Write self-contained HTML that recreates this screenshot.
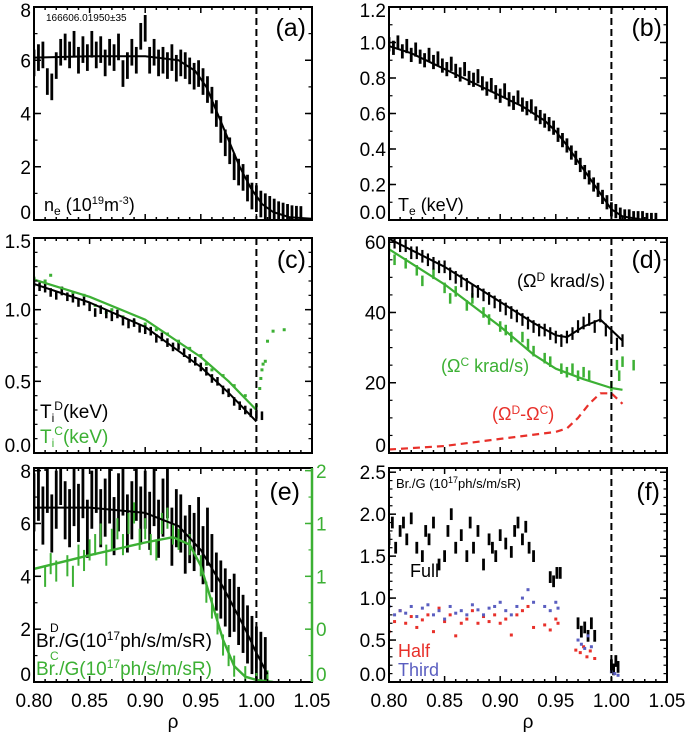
<!DOCTYPE html>
<html><head><meta charset="utf-8"><style>
html,body{margin:0;padding:0;background:#fff;}
svg{display:block;font-family:"Liberation Sans",sans-serif;}
</style></head><body>
<svg id="chart" width="688" height="737" viewBox="0 0 688 737" xmlns="http://www.w3.org/2000/svg"></svg>
<script>
// ---------- data ----------
const aRho=[0.800,0.804,0.808,0.812,0.816,0.820,0.824,0.828,0.832,0.836,0.840,0.844,0.848,0.852,0.856,0.860,0.864,0.868,0.872,0.876,0.880,0.884,0.888,0.892,0.896,0.900,0.904,0.908,0.912,0.916,0.920,0.924,0.928,0.932,0.936,0.940,0.944,0.948,0.952,0.956,0.960,0.964,0.968,0.972,0.976,0.980,0.984,0.988,0.992,0.996,1.000,1.004,1.008,1.012,1.016,1.020,1.024,1.028,1.032,1.036,1.040];
const aNe=[5.9,6.1,6.2,5.2,5.0,5.8,6.3,6.5,6.2,6.6,6.0,6.4,6.1,6.6,6.2,6.4,5.9,6.3,6.1,6.5,5.5,5.8,6.3,6.0,6.9,7.2,6.0,6.3,5.9,6.0,5.8,6.1,5.7,5.9,5.8,5.6,5.4,5.5,5.2,4.9,4.5,4.0,3.4,2.9,2.6,2.0,1.8,1.6,1.2,0.9,0.8,0.6,0.5,0.4,0.3,0.2,0.15,0.1,0.05,0.03,0.02];
const aFitRho=[0.80,0.85,0.90,0.93,0.945,0.955,0.965,0.975,0.985,0.995,1.005,1.015,1.03,1.05];
const aFit=[6.1,6.15,6.15,6.0,5.6,5.0,4.0,3.0,2.0,1.2,0.6,0.3,0.1,0.05];
const bTe=[0.99,0.97,1.00,0.95,0.98,0.93,0.96,0.92,0.90,0.93,0.89,0.91,0.87,0.85,0.88,0.84,0.82,0.85,0.80,0.79,0.81,0.77,0.74,0.76,0.72,0.70,0.73,0.68,0.66,0.69,0.65,0.63,0.64,0.60,0.58,0.56,0.54,0.52,0.48,0.45,0.42,0.38,0.35,0.31,0.27,0.24,0.20,0.17,0.13,0.10,0.06,0.05,0.03,0.02,0.02,0.01,0.01,0.01,0.0,0.0,0.0];
const bFitRho=[0.80,0.82,0.84,0.86,0.88,0.90,0.92,0.94,0.95,0.96,0.97,0.98,0.99,1.00,1.01,1.03];
const bFit=[0.98,0.94,0.88,0.82,0.76,0.70,0.64,0.56,0.50,0.42,0.33,0.24,0.15,0.06,0.02,0.0];
const cRho=[0.800,0.805,0.810,0.815,0.820,0.825,0.830,0.835,0.840,0.845,0.850,0.855,0.860,0.865,0.870,0.875,0.880,0.885,0.890,0.895,0.900,0.905,0.910,0.915,0.920,0.925,0.930,0.935,0.940,0.945,0.950,0.955,0.960,0.965,0.970,0.975,0.980,0.985,0.990,0.995,1.000,1.005];
const cTiD=[1.19,1.16,1.15,1.12,1.10,1.13,1.09,1.08,1.05,1.06,1.02,0.98,1.00,0.97,0.95,0.97,0.92,0.90,0.91,0.87,0.86,0.85,0.80,0.81,0.77,0.74,0.75,0.70,0.66,0.64,0.60,0.57,0.52,0.50,0.44,0.42,0.36,0.33,0.30,0.28,0.27,0.26];
const cCRho=[0.80,0.81,0.815,0.825,0.835,0.845,0.855,0.865,0.87,0.88,0.89,0.90,0.91,0.92,0.93,0.94,0.95,0.955,0.96,0.97,0.98,0.99,1.0,1.003,1.004,1.005,1.006,1.008,1.01,1.015,1.025];
const cTiC=[1.22,1.20,1.24,1.15,1.12,1.10,1.03,0.98,1.00,0.95,0.92,0.90,0.86,0.83,0.78,0.73,0.68,0.62,0.58,0.54,0.47,0.40,0.33,0.45,0.52,0.58,0.62,0.64,0.78,0.85,0.86];
const cFitRho=[0.80,0.85,0.90,0.95,0.975,1.0];
const cFitD=[1.18,1.05,0.88,0.60,0.42,0.22];
const cFitC=[1.21,1.09,0.93,0.67,0.50,0.30];
const dRho=[0.800,0.805,0.810,0.815,0.820,0.825,0.830,0.835,0.840,0.845,0.850,0.855,0.860,0.865,0.870,0.875,0.880,0.885,0.890,0.895,0.900,0.905,0.910,0.915,0.920,0.925,0.930,0.935,0.940,0.945,0.950,0.955,0.960,0.965,0.970,0.975,0.980,0.985,0.990,0.995,1.000,1.005,1.010];
const dOmD=[61,60,59,59,57,57,56,55,54,53,53,51,50,49,48,46,46,45,44,43,42,41,40,39,38,37,36,35,35,34,33,32,33,34,36,37,38,36,39,35,33,31,32];
const dCRho=[0.80,0.805,0.815,0.825,0.83,0.84,0.85,0.855,0.86,0.87,0.875,0.885,0.89,0.90,0.905,0.91,0.92,0.925,0.93,0.94,0.945,0.955,0.96,0.965,0.97,0.975,0.98,1.0,1.005,1.007,1.01,1.02];
const dOmC=[58,55,54,52,49,51,47,44,46,42,44,40,38,36,35,33,33,31,29,27,26,24,23,24,22,23,22,19,25,22,26,25];
const dFitRhoD=[0.80,0.85,0.90,0.93,0.95,0.96,0.975,0.99,1.00,1.01];
const dFitD=[61,53,43,37,33.5,33,36,38,35,32];
const dFitRhoC=[0.80,0.85,0.90,0.93,0.95,0.975,1.0,1.01];
const dFitC=[58,48,36,28,24,21,18.5,18];
const dDiffRho=[0.80,0.85,0.90,0.95,0.96,0.97,0.98,0.99,1.00,1.01];
const dDiff=[1,2,4,6,7,10,14,17,17,14];
const eRho=[0.800,0.804,0.808,0.812,0.816,0.820,0.824,0.828,0.832,0.836,0.840,0.844,0.848,0.852,0.856,0.860,0.864,0.868,0.872,0.876,0.880,0.884,0.888,0.892,0.896,0.900,0.904,0.908,0.912,0.916,0.920,0.924,0.928,0.932,0.936,0.940,0.944,0.948,0.952,0.956,0.960,0.964,0.968,0.972,0.976,0.980,0.984,0.988,0.992,0.996,1.000,1.004,1.008];
const eBrD=[6.8,7.2,6.3,7.5,6.0,6.9,7.8,6.5,6.2,7.0,6.4,7.3,5.8,6.9,7.5,6.2,6.6,7.1,5.9,6.8,7.4,6.0,6.5,7.2,6.3,6.9,6.1,7.0,5.8,6.6,7.3,5.5,6.2,6.0,5.2,5.6,5.3,5.9,4.8,5.5,4.5,3.8,3.5,3.2,2.8,3.0,2.5,2.2,1.8,1.4,1.0,0.8,0.6];
const eCRho=[0.80,0.81,0.815,0.82,0.83,0.835,0.84,0.845,0.85,0.855,0.86,0.865,0.87,0.875,0.88,0.885,0.89,0.895,0.90,0.905,0.91,0.915,0.92,0.925,0.93,0.94,0.95,0.955,0.96,0.965,0.97,0.975,0.98,0.99,1.0,1.01];
const eBrC=[1.15,1.0,1.12,1.05,1.1,1.0,1.2,1.15,1.25,1.3,1.4,1.2,1.35,1.45,1.3,1.5,1.6,1.35,1.45,1.3,1.25,1.5,1.55,1.4,1.35,1.3,1.1,0.85,0.7,0.55,0.35,0.25,0.15,0.05,0.03,0.01];
const eFitRhoD=[0.80,0.85,0.90,0.93,0.95,0.97,0.99,1.00,1.01];
const eFitD=[6.6,6.6,6.4,5.9,5.0,3.6,2.0,1.1,0.3];
const eFitRhoC=[0.80,0.85,0.90,0.925,0.94,0.95,0.96,0.97,0.98,0.99,1.0,1.015];
const eFitC=[1.07,1.2,1.32,1.37,1.3,1.1,0.75,0.4,0.15,0.05,0.02,0.0];
const fRho=[0.80,0.803,0.806,0.81,0.813,0.816,0.82,0.825,0.83,0.833,0.836,0.84,0.845,0.85,0.853,0.856,0.86,0.865,0.87,0.873,0.876,0.88,0.885,0.89,0.893,0.896,0.90,0.905,0.91,0.913,0.916,0.92,0.923,0.926,0.93,0.945,0.948,0.951,0.954,0.97,0.973,0.976,0.979,0.982,0.985,1.0,1.002,1.004,1.006];
const fFull=[1.7,1.9,1.6,1.8,1.9,1.7,1.95,1.6,1.5,1.8,1.7,1.9,1.4,1.5,1.8,2.0,1.6,1.75,1.5,1.9,1.6,1.8,1.4,1.7,1.6,1.5,1.75,1.65,1.55,1.8,1.9,1.7,1.85,1.6,1.5,1.25,1.2,1.3,1.3,0.7,0.6,0.65,0.55,0.7,0.55,0.2,0.15,0.25,0.18];
const fHRho=[0.80,0.805,0.81,0.815,0.82,0.825,0.83,0.835,0.84,0.845,0.85,0.855,0.86,0.865,0.87,0.875,0.88,0.885,0.89,0.895,0.90,0.905,0.91,0.915,0.92,0.925,0.93,0.94,0.945,0.95,0.952,0.968,0.972,0.975,0.978,0.981,0.985];
const fHalf=[0.6,0.72,0.85,0.7,0.78,0.65,0.74,0.8,0.6,0.88,0.72,0.8,0.55,0.7,0.75,0.85,0.7,0.78,0.72,0.8,0.7,0.75,0.56,0.8,0.85,0.9,0.65,0.68,0.62,0.75,0.7,0.38,0.35,0.42,0.3,0.37,0.28];
const fTRho=[0.80,0.805,0.81,0.815,0.82,0.825,0.83,0.835,0.84,0.845,0.85,0.855,0.86,0.865,0.87,0.875,0.88,0.885,0.89,0.895,0.90,0.905,0.91,0.915,0.92,0.925,0.93,0.94,0.945,0.95,0.952,0.97,0.973,0.976,0.979,0.982,1.0,1.003,1.006];
const fThird=[0.9,0.8,0.85,0.82,0.9,0.78,0.88,0.92,0.8,0.85,0.75,0.9,0.82,0.85,0.8,0.92,0.86,0.8,0.88,0.9,0.95,0.85,0.8,0.9,1.0,1.1,0.95,0.9,0.85,0.95,0.88,0.5,0.45,0.4,0.55,0.42,0.12,0.1,0.08];
const xTicks=["0.80","0.85","0.90","0.95","1.00","1.05"];
const aTicks=["0","2","4","6","8"];
const bTicks=["0.0","0.2","0.4","0.6","0.8","1.0","1.2"];
const cTicks=["0.0","0.5","1.0","1.5"];
const dTicks=["0","20","40","60"];
const eTicks=["0","2","4","6","8"];
const eRTicks=["0","0","1","1","2"];
const fTicks=["0.0","0.5","1.0","1.5","2.0","2.5"];

// ---------- drawing ----------
const NS="http://www.w3.org/2000/svg";
const svg=document.getElementById('chart');
const GREEN="#3cb034",RED="#e8302a",BLUE="#5a5ec0";
function mk(tag,attrs,parent){const e=document.createElementNS(NS,tag);for(const k in attrs)e.setAttribute(k,attrs[k]);(parent||svg).appendChild(e);return e;}
const L={x0:34,x1:312},R={x0:389,x1:667};
const panels={
 a:{...L,y0:7,y1:220,ymin:0,ymax:8},
 b:{...R,y0:7,y1:220,ymin:0,ymax:1.2},
 c:{...L,y0:238,y1:453,ymin:0,ymax:1.5},
 d:{...R,y0:238,y1:453,ymin:0,ymax:61.2},
 e:{...L,y0:468,y1:682,ymin:0,ymax:8.1},
 f:{...R,y0:468,y1:682,ymin:0,ymax:2.55}
};
function sx(p,v){return p.x0+(v-0.8)/0.25*(p.x1-p.x0);}
function sy(p,v,ymax){const m=ymax||p.ymax;return p.y1-(v-p.ymin)/(m-p.ymin)*(p.y1-p.y0);}
function clip(id,p){const d=mk('clipPath',{id:id});mk('rect',{x:p.x0,y:p.y0,width:p.x1-p.x0,height:p.y1-p.y0},d);}
function errbars(g,p,xs,ys,err,color,w,ymax){
 for(let i=0;i<xs.length;i++){
  const x=sx(p,xs[i]);
  const l=mk('line',{x1:x,x2:x,y1:sy(p,ys[i]-err,ymax),y2:sy(p,ys[i]+err,ymax),stroke:color,'stroke-width':w},g);
  
  
 }
}
function dots(g,p,xs,ys,color,s,ymax){
 for(let i=0;i<xs.length;i++){
  const r=mk('rect',{x:sx(p,xs[i])-s/2,y:sy(p,ys[i],ymax)-s/2,width:s,height:s,fill:color},g);
  
  
 }
}
function curve(g,p,xs,ys,color,w,dash,ymax,name){
 let d='';for(let i=0;i<xs.length;i++)d+=(i?'L':'M')+sx(p,xs[i]).toFixed(1)+' '+sy(p,ys[i],ymax).toFixed(1);
 const a={d:d,fill:'none',stroke:color,'stroke-width':w,'stroke-linejoin':'round'};if(dash)a['stroke-dasharray']=dash;
 const e=mk('path',a,g);
 
 
}
function text(str,x,y,size,color,anchor,name,parent){
 const t=mk('text',{x:x,y:y,'font-size':size,fill:color||'#000','text-anchor':anchor||'start'},parent);
 t.innerHTML=str;
 
 
 return t;
}
function frame(key,p,yt,minorStep,xlabels,rightColor){
 const g=mk('g',{});
 
 
 for(let v=0.8;v<=1.0501;v+=0.01){
  const major=Math.abs((v-0.8)/0.05-Math.round((v-0.8)/0.05))<1e-6;const len=major?6:3;const x=sx(p,v);
  mk('line',{x1:x,x2:x,y1:p.y1,y2:p.y1-len,stroke:'#000','stroke-width':1.5},g);
  mk('line',{x1:x,x2:x,y1:p.y0,y2:p.y0+len,stroke:'#000','stroke-width':1.5},g);
 }
 const n=yt.length;
 const majStep=(yt.length>1)?(parseFloat(yt[1])-parseFloat(yt[0])):1;
 for(let i=0;i<n;i++){
  const v=parseFloat(yt[0])+i*majStep, y=sy(p,v);
  mk('line',{x1:p.x0,x2:p.x0+7,y1:y,y2:y,stroke:'#000','stroke-width':1.5},g);
  mk('line',{x1:p.x1,x2:p.x1-7,y1:y,y2:y,stroke:rightColor||'#000','stroke-width':1.5},g);
  const ty=Math.min(Math.max(y+7,p.y0+10),p.y1-1);
  text(yt[i],p.x0-3,ty,19,'#000','end','y-tick-label',g);
 }
 for(let v=p.ymin;v<=p.ymax+1e-9;v+=minorStep){
  const y=sy(p,v);
  mk('line',{x1:p.x0,x2:p.x0+3.5,y1:y,y2:y,stroke:'#000','stroke-width':1.2},g);
  mk('line',{x1:p.x1,x2:p.x1-3.5,y1:y,y2:y,stroke:rightColor||'#000','stroke-width':1.2},g);
 }
 const xd=sx(p,1.0);
 const dl=mk('line',{x1:xd,x2:xd,y1:p.y0,y2:p.y1,stroke:'#000','stroke-width':2,'stroke-dasharray':'7,4'},g);
 
 
 mk('rect',{x:p.x0,y:p.y0,width:p.x1-p.x0,height:p.y1-p.y0,fill:'none',stroke:'#000','stroke-width':2},g);
 if(rightColor)mk('line',{x1:p.x1,x2:p.x1,y1:p.y0,y2:p.y1,stroke:rightColor,'stroke-width':2.5},g);
 if(xlabels){
  for(let i=0;i<xTicks.length;i++)text(xTicks[i],sx(p,0.8+0.05*i),707,19,'#000','middle','x-tick-label',g);
  text('ρ',(p.x0+p.x1)/2,728,19,'#000','middle','x-axis-title',g);
 }
 return g;
}
function series(key,p){const g=mk('g',{'clip-path':'url(#clip'+key+')'});return g;}
for(const k in panels)clip('clip'+k,panels[k]);

// (a)
let p=panels.a, g=series('a',p);
errbars(g,p,aRho,aNe,0.5,'#000',2.8);
curve(g,p,aFitRho,aFit,'#000',2,null,null,'ne-fit-line');
frame('a',p,aTicks,1,false);
text('166606.01950±35',46,21,10,'#000','start','shot-label');
text('(a)',306,36,25,'#000','end','panel-a-label');
text('n<tspan font-size="12" dy="4">e</tspan><tspan dy="-4"> (10</tspan><tspan font-size="11" dy="-7">19</tspan><tspan dy="7">m</tspan><tspan font-size="11" dy="-7">-3</tspan><tspan dy="7">)</tspan>',44,211,18,'#000','start','ne-label');

// (b)
p=panels.b; g=series('b',p);
errbars(g,p,aRho,bTe,0.04,'#000',2.8);
curve(g,p,bFitRho,bFit,'#000',2,null,null,'te-fit-line');
frame('b',p,bTicks,0.1,false);
text('(b)',662,36,25,'#000','end','panel-b-label');
text('T<tspan font-size="12" dy="4">e</tspan><tspan dy="-4"> (keV)</tspan>',398,211,18,'#000','start','te-label');

// (c)
p=panels.c; g=series('c',p);
dots(g,p,cCRho,cTiC,GREEN,3);
errbars(g,p,cRho,cTiD,0.03,'#000',2.5);
curve(g,p,cFitRho,cFitC,GREEN,2.2,null,null,'ti-c-fit-line');
curve(g,p,cFitRho,cFitD,'#000',2,null,null,'ti-d-fit-line');
frame('c',p,cTicks,0.1,false);
text('(c)',306,268,25,'#000','end','panel-c-label');
text('T<tspan font-size="12" dy="4">i</tspan><tspan font-size="12" dy="-12">D</tspan><tspan dy="8">(keV)</tspan>',40,418,19,'#000','start','ti-d-label');
text('T<tspan font-size="12" dy="4">i</tspan><tspan font-size="12" dy="-12">C</tspan><tspan dy="8">(keV)</tspan>',40,443,19,GREEN,'start','ti-c-label');

// (d)
p=panels.d; g=series('d',p);
errbars(g,p,dCRho,dOmC,1.5,GREEN,2.5);
errbars(g,p,dRho,dOmD,1.8,'#000',2.2);
curve(g,p,dFitRhoC,dFitC,GREEN,2.2,null,null,'omega-c-fit-line');
curve(g,p,dFitRhoD,dFitD,'#000',2,null,null,'omega-d-fit-line');
curve(g,p,dDiffRho,dDiff,RED,2.2,'7,5',null,'omega-diff-line');
frame('d',p,dTicks,5,false);
text('(d)',662,268,25,'#000','end','panel-d-label');
text('(Ω<tspan font-size="12" dy="-6">D</tspan><tspan dy="6"> krad/s)</tspan>',517,287,18,'#000','start','omega-d-label');
text('(Ω<tspan font-size="12" dy="-6">C</tspan><tspan dy="6"> krad/s)</tspan>',441,372,18,GREEN,'start','omega-c-label');
text('(Ω<tspan font-size="12" dy="-6">D</tspan><tspan dy="6">-Ω</tspan><tspan font-size="12" dy="-6">C</tspan><tspan dy="6">)</tspan>',492,420,18,RED,'start','omega-diff-label');

// (e)
p=panels.e; g=series('e',p);
errbars(g,p,eRho,eBrD,1.1,'#000',2.8);
errbars(g,p,eCRho,eBrC,0.1,GREEN,2,2.025);
curve(g,p,eFitRhoD,eFitD,'#000',2,null,null,'br-d-fit-line');
curve(g,p,eFitRhoC,eFitC,GREEN,2.4,null,2.025,'br-c-fit-line');
frame('e',p,eTicks,1,true,GREEN);
for(let i=0;i<eRTicks.length;i++){text(eRTicks[i],p.x1+4,Math.min(Math.max(sy(p,2*i)+7,p.y0+10),p.y1-1),19,GREEN,'start','right-y-tick-label');}
text('(e)',300,500,25,'#000','end','panel-e-label');
text('<tspan font-size="12" x="50" dy="-15">D</tspan><tspan x="36" dy="15">Br./G(10</tspan><tspan font-size="12" dy="-7">17</tspan><tspan dy="7">ph/s/m/sR)</tspan>',36,647,19,'#000','start','br-d-label');
text('<tspan font-size="12" x="50" dy="-15">C</tspan><tspan x="36" dy="15">Br./G(10</tspan><tspan font-size="12" dy="-7">17</tspan><tspan dy="7">ph/s/m/sR)</tspan>',36,675,19,GREEN,'start','br-c-label');

// (f)
p=panels.f; g=series('f',p);
errbars(g,p,fRho,fFull,0.07,'#000',2.8);
dots(g,p,fHRho,fHalf,RED,3);
dots(g,p,fTRho,fThird,BLUE,3);
frame('f',p,fTicks,0.1,true);
text('(f)',660,500,25,'#000','end','panel-f-label');
text('Br./G (10<tspan font-size="9" dy="-5">17</tspan><tspan dy="5">ph/s/m/sR)</tspan>',396,488,13,'#000','start','br-f-label');
text('Full',410,577,18,'#000','start','legend-full');
text('Half',398,657,18,RED,'start','legend-half');
text('Third',398,676,18,BLUE,'start','legend-third');
</script>
</body></html>
